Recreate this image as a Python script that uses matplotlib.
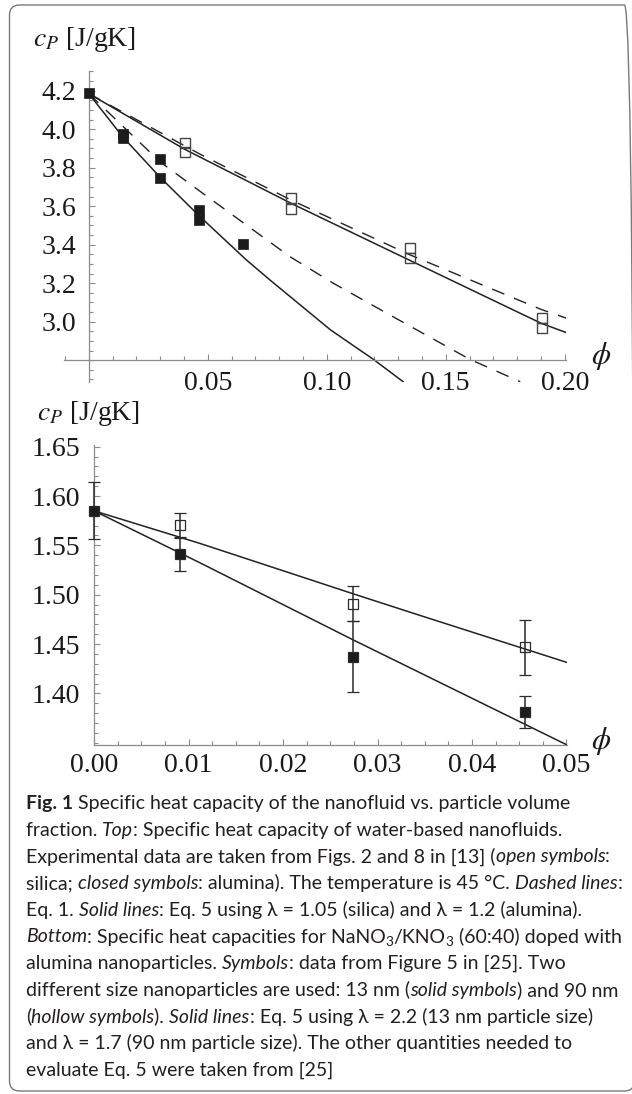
import matplotlib
matplotlib.use("Agg")
import matplotlib.pyplot as plt
from matplotlib.patches import FancyBboxPatch
from matplotlib.transforms import IdentityTransform
from matplotlib.ticker import MultipleLocator, FixedLocator, FormatStrFormatter

plt.rcParams['font.family'] = ['Liberation Serif', 'DejaVu Serif']
plt.rcParams['mathtext.fontset'] = 'stix'

# ---- top panel: water based nanofluids ----
alu_phi = [0.0, 0.0143, 0.0143, 0.030, 0.030, 0.0464, 0.0464, 0.0649]
alu_cp = [4.19, 3.975, 3.955, 3.847, 3.748, 3.578, 3.526, 3.404]
sil_phi = [0.0404, 0.0404, 0.085, 0.085, 0.135, 0.135, 0.1903, 0.1903]
sil_cp = [3.93, 3.883, 3.641, 3.585, 3.381, 3.329, 3.018, 2.966]

# Eq. 1 (dashed) and Eq. 5 (solid) curves
sil_eq1_phi = [0.0, 0.0468, 0.085, 0.135, 0.19, 0.2007]
sil_eq1_cp = [4.185, 3.870, 3.632, 3.347, 3.064, 3.018]
sil_eq5_phi = [0.0, 0.0404, 0.0468, 0.085, 0.135, 0.19, 0.2007]
sil_eq5_cp = [4.185, 3.895, 3.855, 3.615, 3.318, 2.992, 2.943]
alu_eq1_phi = [0.0, 0.030, 0.0489, 0.0845, 0.1027, 0.1265, 0.160, 0.1813]
alu_eq1_cp = [4.185, 3.83, 3.658, 3.338, 3.20, 3.035, 2.805, 2.688]
alu_eq5_phi = [0.0, 0.0143, 0.030, 0.0468, 0.0663, 0.0761, 0.1016, 0.1195, 0.1321]
alu_eq5_cp = [4.185, 3.96, 3.75, 3.545, 3.32, 3.217, 2.957, 2.805, 2.688]

# ---- bottom panel: NaNO3/KNO3 + alumina ----
phi_13 = [0.0, 0.0091, 0.0274, 0.0456]
cp_13 = [1.585, 1.541, 1.437, 1.381]
err_13 = [0.029, 0.0165, 0.036, 0.016]
phi_90 = [0.0091, 0.0274, 0.0456]
cp_90 = [1.5706, 1.491, 1.4467]
err_90 = [0.0125, 0.018, 0.028]
fit90_phi = [0.0, 0.0112, 0.0274, 0.0345, 0.05]
fit90_cp = [1.585, 1.552, 1.501, 1.479, 1.4315]
fit13_phi = [0.0, 0.0112, 0.0273, 0.05]
fit13_cp = [1.585, 1.5324, 1.4548, 1.348]

W, H = 632, 1094
fig = plt.figure(figsize=(W / 100, H / 100), dpi=100)

LINE = '#222222'
AXC = '#8c8c8c'


def px_axes(left, top, right, bottom):
    return fig.add_axes([left / W, 1 - bottom / H, (right - left) / W, (bottom - top) / H])


def style_axes(ax):
    for s in ['top', 'right']:
        ax.spines[s].set_visible(False)
    for s in ['left', 'bottom']:
        ax.spines[s].set_color(AXC)
        ax.spines[s].set_linewidth(0.9)
    ax.tick_params(which='both', direction='in', color=AXC, width=0.8,
                   labelsize=20, labelcolor='#1a1a1a')
    ax.tick_params(which='major', length=4.5)
    ax.tick_params(which='minor', length=2.8)
    ax.patch.set_alpha(0)


# top panel
ax1 = px_axes(64, 70.7, 566.4, 381.7)
ax1.set_xlim(-0.0104, 0.2007)
ax1.set_ylim(2.688, 4.304)
style_axes(ax1)
ax1.spines['left'].set_position(('data', 0))
ax1.spines['bottom'].set_position(('data', 2.8))
ax1.xaxis.set_major_locator(FixedLocator([0.05, 0.10, 0.15, 0.20]))
ax1.xaxis.set_major_formatter(FormatStrFormatter('%.2f'))
ax1.xaxis.set_minor_locator(MultipleLocator(0.01))
ax1.yaxis.set_major_locator(FixedLocator([3.0, 3.2, 3.4, 3.6, 3.8, 4.0, 4.2]))
ax1.yaxis.set_major_formatter(FormatStrFormatter('%.1f'))
ax1.yaxis.set_minor_locator(MultipleLocator(0.05))
ax1.tick_params(axis='x', pad=8)
ax1.tick_params(axis='y', pad=9)

dash = (0, (9.5, 7.5))
ax1.plot(sil_eq1_phi, sil_eq1_cp, color=LINE, lw=1.0, ls=dash)
ax1.plot(alu_eq1_phi, alu_eq1_cp, color=LINE, lw=1.0, ls=dash)
ax1.plot(sil_eq5_phi, sil_eq5_cp, color=LINE, lw=1.1)
ax1.plot(alu_eq5_phi, alu_eq5_cp, color=LINE, lw=1.1)
ax1.plot(alu_phi, alu_cp, 's', ms=7.8, mfc='#1c1c1c', mec='#1c1c1c', mew=0.5,
         clip_on=False, zorder=5)
ax1.plot(sil_phi, sil_cp, 's', ms=7.2, mfc='none', mec='#444444', mew=1.0,
         clip_on=False, zorder=5)

# bottom panel
ax2 = px_axes(94, 444.7, 566.5, 744.7)
ax2.set_xlim(0, 0.05)
ax2.set_ylim(1.348, 1.652)
style_axes(ax2)
ax2.xaxis.set_major_locator(MultipleLocator(0.01))
ax2.xaxis.set_major_formatter(FormatStrFormatter('%.2f'))
ax2.xaxis.set_minor_locator(MultipleLocator(0.0025))
ax2.yaxis.set_major_locator(FixedLocator([1.40, 1.45, 1.50, 1.55, 1.60, 1.65]))
ax2.yaxis.set_major_formatter(FormatStrFormatter('%.2f'))
ax2.yaxis.set_minor_locator(MultipleLocator(0.01))
ax2.tick_params(axis='x', pad=6)
ax2.tick_params(axis='y', pad=10)

ax2.plot(fit90_phi, fit90_cp, color=LINE, lw=1.1)
ax2.plot(fit13_phi, fit13_cp, color=LINE, lw=1.1)
for phi, cp, err, face in [(phi_90, cp_90, err_90, 'none'), (phi_13, cp_13, err_13, '#1c1c1c')]:
    c = ax2.errorbar(phi, cp, yerr=err, fmt='s', ms=7.0, mfc=face, mec='#2a2a2a', mew=0.9,
                     ecolor='#2a2a2a', elinewidth=1.1, capsize=4.5, capthick=1.1, zorder=5)
    c.lines[0].set_clip_on(False)
    for a in list(c.lines[1]) + list(c.lines[2]):
        a.set_clip_on(False)

# axis labels
fig.text(33 / W, 1 - 39 / H, r'$c_P$ [J/gK]', fontsize=20, va='center', ha='left', color='#1a1a1a')
fig.text(37 / W, 1 - 413 / H, r'$c_P$ [J/gK]', fontsize=20, va='center', ha='left', color='#1a1a1a')
fig.text(601 / W, 1 - 356 / H, r'$\phi$', fontsize=22, va='center', ha='center', color='#1a1a1a')
fig.text(601 / W, 1 - 741 / H, r'$\phi$', fontsize=22, va='center', ha='center', color='#1a1a1a')

# frame
fig.patches.append(FancyBboxPatch((9.5, 3), 625, 1086, boxstyle='round,pad=0,rounding_size=10',
                                  transform=IdentityTransform(), fill=False,
                                  edgecolor='#7a7a7a', lw=1.0))

# caption
caption = [
    [('Fig. 1', 'b'), (' Specific heat capacity of the nanofluid vs. particle volume', 'r')],
    [('fraction. ', 'r'), ('Top', 'i'), (': Specific heat capacity of water-based nanofluids.', 'r')],
    [('Experimental data are taken from Figs. 2 and 8 in [13] (', 'r'), ('open symbols', 'i'), (':', 'r')],
    [('silica; ', 'r'), ('closed symbols', 'i'), (': alumina). The temperature is 45 °C. ', 'r'),
     ('Dashed lines', 'i'), (':', 'r')],
    [('Eq. 1. ', 'r'), ('Solid lines', 'i'), (': Eq. 5 using λ = 1.05 (silica) and λ = 1.2 (alumina).', 'r')],
    [('Bottom', 'i'), (': Specific heat capacities for NaNO', 'r'), ('3', 's'), ('/KNO', 'r'), ('3', 's'),
     (' (60:40) doped with', 'r')],
    [('alumina nanoparticles. ', 'r'), ('Symbols', 'i'), (': data from Figure 5 in [25]. Two', 'r')],
    [('different size nanoparticles are used: 13 nm (', 'r'), ('solid symbols', 'i'), (') and 90 nm', 'r')],
    [('(', 'r'), ('hollow symbols', 'i'), ('). ', 'r'), ('Solid lines', 'i'),
     (': Eq. 5 using λ = 2.2 (13 nm particle size)', 'r')],
    [('and λ = 1.7 (90 nm particle size). The other quantities needed to', 'r')],
    [('evaluate Eq. 5 were taken from [25]', 'r')],
]

renderer = fig.canvas.get_renderer()
CAP_FONT = ['Lato', 'DejaVu Sans']


def seg_props(style, size):
    kw = dict(fontsize=size, family=CAP_FONT, color='#231f20')
    if style == 'b':
        kw['fontweight'] = 'bold'
    elif style == 'i':
        kw['fontstyle'] = 'italic'
    elif style == 's':
        kw['fontsize'] = size * 0.7
    return kw


def seg_width(s, kw):
    t = fig.text(0, 0, s + '|', **kw)
    w1 = t.get_window_extent(renderer).width
    t.set_text('|')
    w2 = t.get_window_extent(renderer).width
    t.remove()
    return w1 - w2


def line_width(parts, size):
    return sum(seg_width(s, seg_props(st, size)) for s, st in parts)


size = 12 * 542 / line_width(caption[0], 12)
base0, step = 809, 26.7
for i, parts in enumerate(caption):
    x = 26
    y = base0 + i * step
    for s, st in parts:
        kw = seg_props(st, size)
        dy = 3.5 if st == 's' else 0
        fig.text(x / W, 1 - (y + dy) / H, s, va='baseline', ha='left', **kw)
        x += seg_width(s, kw)

fig.savefig('out.png', dpi=100)
